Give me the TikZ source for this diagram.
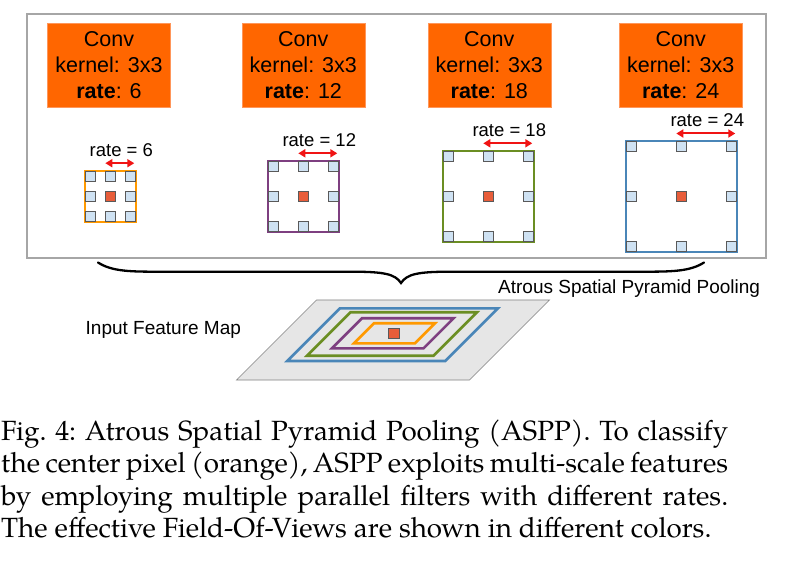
\documentclass[tikz,border=0pt]{standalone}
\usepackage{fontspec}
\setmainfont{Liberation Sans}
\newfontfamily\capfont{texgyrepagella-regular.otf}
\usetikzlibrary{arrows.meta,calc}
\definecolor{convor}{RGB}{255,102,0}
\definecolor{convedge}{RGB}{255,150,90}
\definecolor{boxgray}{RGB}{166,166,166}
\definecolor{fovor}{RGB}{255,153,0}
\definecolor{fovpu}{RGB}{126,63,128}
\definecolor{fovgr}{RGB}{107,142,35}
\definecolor{fovbl}{RGB}{74,134,184}
\definecolor{tapfill}{RGB}{207,226,243}
\definecolor{tapedge}{RGB}{89,89,89}
\definecolor{ctrfill}{RGB}{232,93,58}
\definecolor{mapfill}{RGB}{230,230,230}
\definecolor{mapedge}{RGB}{128,128,128}
\definecolor{arrred}{RGB}{240,20,20}

\newcommand\myfilter[6]{%
  \node[fovframe, draw=#5, minimum size={2*#4+11}] (#1) at (#2,#3) {};
  \foreach \dx/\dy/\nm in {-1/-1/a,0/-1/b,1/-1/c,-1/0/d,1/0/e,-1/1/f,0/1/g,1/1/h}
    \node[tap] (#1\nm) at ($(#1.center)+(\dx*#4,\dy*#4)$) {};
  \node[ctrpix] (#1x) at (#1.center) {};
  \coordinate (#1l) at ($(#1.center)+(-5,-#4-13)$);
  \coordinate (#1r) at ($(#1.center)+(#4+4,-#4-13)$);
  \draw[ratearrow] (#1l) -- (#1r);
  \node[ratelbl] (#1t) at ($(#1l)!0.5!(#1r)+(1.5,-13)$) {rate = #6};
}

\begin{document}
\begin{tikzpicture}[x=1pt,y=-1pt,
  outerbox/.style={draw=boxgray, line width=1.5pt},
  convbox/.style={fill=convor, draw=convedge, line width=0.6pt, minimum width=123pt,
    minimum height=84pt, inner sep=0pt, align=center, font=\fontsize{21.5}{25.7}\selectfont},
  fovframe/.style={line width=2.2pt, inner sep=0pt, outer sep=0pt, fill=white},
  tap/.style={fill=tapfill, draw=tapedge, line width=0.7pt, minimum size=10.5pt, inner sep=0pt},
  ctrpix/.style={fill=ctrfill, draw=tapedge, line width=0.7pt, minimum size=10pt, inner sep=0pt},
  ratearrow/.style={draw=arrred, line width=2pt,
    {Triangle[length=7pt,width=8pt]}-{Triangle[length=7pt,width=8pt]}},
  ratelbl/.style={font=\fontsize{18.5}{22}\selectfont, inner sep=0pt},
  bracepath/.style={line width=2.3pt, line cap=round},
  maplbl/.style={font=\fontsize{19}{23}\selectfont, inner sep=0pt, anchor=west},
  fmap/.style={fill=mapfill, draw=mapedge, line width=0.7pt},
  fov/.style={line width=2.6pt, line join=miter},
  capline/.style={font=\capfont\fontsize{27.8}{32.5}\selectfont\frenchspacing, inner sep=0pt, anchor=base west}
]
\useasboundingbox (0,0) rectangle (785,564);

% outer ASPP box
\draw[outerbox] (27,14) rectangle (766,258);

% conv boxes
\node[convbox] (c1) at (109,65.3) {Conv\\kernel: 3x3\\\textbf{rate}: 6};
\node[convbox] (c2) at (303.3,65.3) {Conv\\kernel: 3x3\\\textbf{rate}: 12};
\node[convbox] (c3) at (489.3,65.3) {Conv\\kernel: 3x3\\\textbf{rate}: 18};
\node[convbox] (c4) at (680.7,65.3) {Conv\\kernel: 3x3\\\textbf{rate}: 24};

% atrous filters
\myfilter{fa}{110.3}{196.2}{20}{fovor}{6}
\myfilter{fb}{303.3}{196.3}{30}{fovpu}{12}
\myfilter{fc}{488.3}{196.3}{40}{fovgr}{18}
\myfilter{fd}{681.3}{196.5}{50}{fovbl}{24}

% brace
\draw[bracepath] (98,262.5) .. controls (112,271.5) and (130,271.7) .. (160,271.7)
  -- (352,271.7) .. controls (384,271.7) and (395,274) .. (401,283)
  .. controls (407,274) and (418,271.7) .. (450,271.7)
  -- (642,271.7) .. controls (672,271.7) and (690,271.5) .. (704,262.5);

\node[maplbl] (aspp) at (498,288.3) {Atrous Spatial Pyramid Pooling};
\node[maplbl] (ifm) at (85.5,330.3) {Input Feature Map};

% input feature map
\draw[fmap] (316.5,300) -- (549.5,300) -- (469.5,380) -- (236.5,380) -- cycle;
\draw[fov, draw=fovbl] (339.8,308.4) -- (497.8,308.4) -- (445.2,361) -- (287.2,361) -- cycle;
\draw[fov, draw=fovgr] (350.5,312.3) -- (476.9,312.3) -- (433.5,355.7) -- (307.1,355.7) -- cycle;
\draw[fov, draw=fovpu] (362,318.3) -- (453.6,318.3) -- (423.6,348.3) -- (332,348.3) -- cycle;
\draw[fov, draw=fovor] (374,323.3) -- (435,323.3) -- (415,343.3) -- (354,343.3) -- cycle;
\node[ctrpix, minimum width=10.7pt] (mapc) at (393.7,333.3) {};

% caption
\node[capline] (cap1) at (1,440) {\makebox[727pt][s]{Fig. 4: Atrous Spatial Pyramid Pooling (ASPP). To classify}};
\node[capline] (cap2) at (1,472.5) {\makebox[727pt][s]{the center pixel (orange), ASPP exploits multi-scale features}};
\node[capline] (cap3) at (1,505) {\makebox[727pt][s]{by employing multiple parallel filters with different rates.}};
\node[capline] (cap4) at (1,537.5) {The effective Field-Of-Views are shown in different colors.};
\end{tikzpicture}
\end{document}
